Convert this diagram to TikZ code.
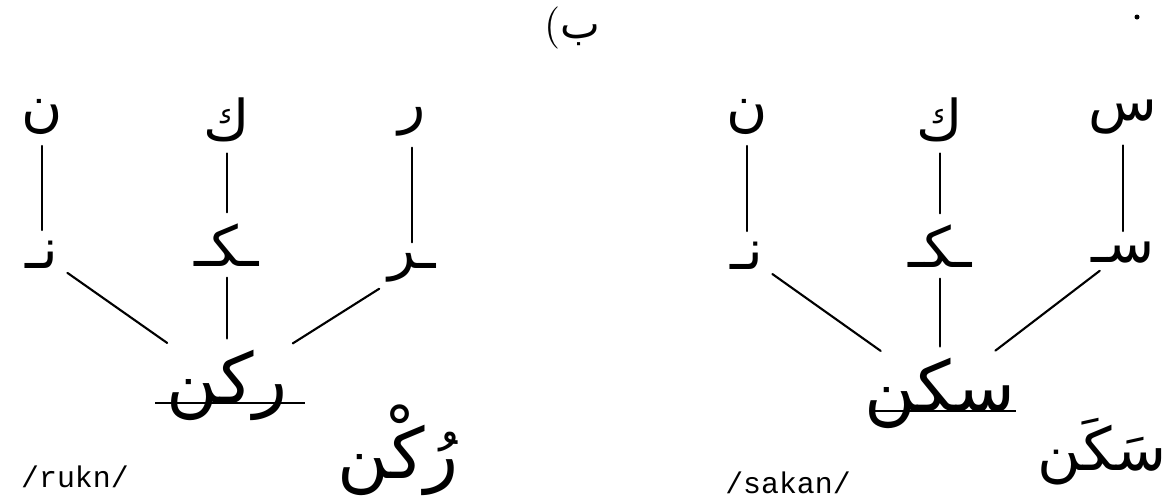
\documentclass[tikz,border=0pt]{standalone}
\usepackage{fontspec}
\setmonofont{Liberation Mono}
\newfontfamily\arabicfont[Script=Arabic]{DejaVu Sans}
\TeXXeTstate=1
\usetikzlibrary{positioning}

\newcommand{\arabtxt}[1]{{\arabicfont\beginR #1\endR}}

\begin{document}
\begin{tikzpicture}[x=0.1mm, y=-0.1mm,
	letra/.style={font=\fontsize{16}{19}\selectfont\arabicfont, inner sep=0pt},
	palabra/.style={font=\fontsize{20}{24}\selectfont\arabicfont, inner sep=0pt},
	translit/.style={font=\fontsize{8.5}{10}\selectfont\ttfamily, inner sep=1pt},
	enlace/.style={semithick, line cap=round, shorten <=3pt, shorten >=3pt},
	tachado/.style={semithick}]
	
	\useasboundingbox (0,0) rectangle (1162,498);
	
	% Etiquetas
	\node[font=\fontsize{12}{14}\selectfont, inner sep=0pt] (etiq) at (572,28) {(\arabtxt{ب}};
	\fill (1137,17) circle (0.25mm);
	
	% Raiz r-k-n
	\node[letra] (rr1) at (412,122) {\arabtxt{ر}};
	\node[letra] (rk1) at (227,120) {\arabtxt{ك}};
	\node[letra] (rn1) at (42,117) {\arabtxt{ن}};
	\node[letra] (rr2) at (412,268) {\arabtxt{ـر}};
	\node[letra] (rk2) at (227,245) {\arabtxt{ـكـ}};
	\node[letra] (rn2) at (42,255) {\arabtxt{نـ}};
	\node[palabra] (rw) at (227,385) {\arabtxt{ركن}};
	\node[translit] (rl) at (75,477) {/rukn/};
	\node[palabra] (rv) at (398,450) {\arabtxt{رُكْن}};
	
	\draw[enlace] (rr1) -- (rr2);
	\draw[enlace] (rk1) -- (rk2);
	\draw[enlace] (rn1) -- (rn2);
	\draw[enlace] (rr2) -- (rw);
	\draw[enlace] (rk2) -- (rw);
	\draw[enlace] (rn2) -- (rw);
	\draw[tachado] ([xshift=-7.2mm]rw.base) -- ([xshift=7.8mm]rw.base);
	
	% Raiz s-k-n
	\node[letra] (ss1) at (1123,117) {\arabtxt{س}};
	\node[letra] (sk1) at (940,120) {\arabtxt{ك}};
	\node[letra] (sn1) at (747,117) {\arabtxt{ن}};
	\node[letra] (ss2) at (1123,253) {\arabtxt{سـ}};
	\node[letra] (sk2) at (940,246) {\arabtxt{ـكـ}};
	\node[letra] (sn2) at (747,256) {\arabtxt{نـ}};
	\node[palabra] (sw) at (940,393) {\arabtxt{سكن}};
	\node[translit] (sl) at (788,483) {/sakan/};
	\node[palabra, font=\fontsize{17}{20}\selectfont\arabicfont] (sv) at (1102,452) {\arabtxt{سَكَن}};
	
	\draw[enlace] (ss1) -- (ss2);
	\draw[enlace] (sk1) -- (sk2);
	\draw[enlace] (sn1) -- (sn2);
	\draw[enlace] (ss2) -- (sw);
	\draw[enlace] (sk2) -- (sw);
	\draw[enlace] (sn2) -- (sw);
	\draw[tachado] ([xshift=-7.0mm]sw.base) -- ([xshift=7.6mm]sw.base);
	
\end{tikzpicture}
\end{document}
